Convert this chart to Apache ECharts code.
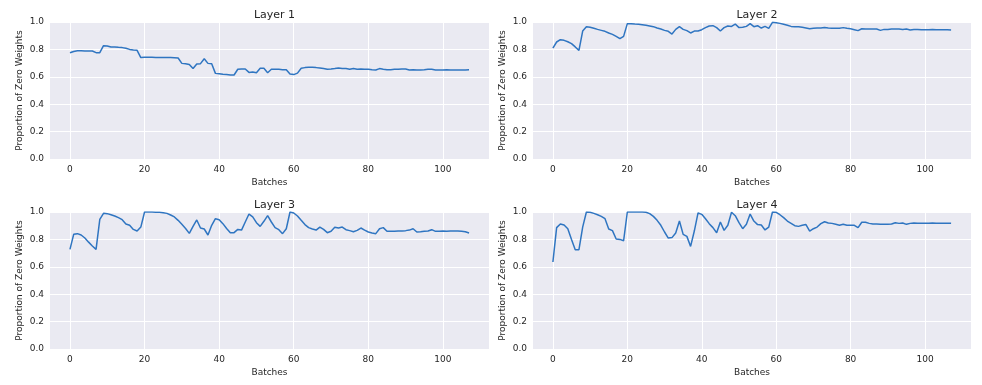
<!DOCTYPE html>
<html>
<head>
<meta charset="utf-8">
<script src="https://cdn.jsdelivr.net/npm/echarts@6/dist/echarts.min.js"></script>
<style>
html,body{margin:0;padding:0;background:#ffffff;}
#chart{width:982px;height:385px;}
</style>
</head>
<body>
<div id="chart"></div>
<script>
const titles = ["Layer 1", "Layer 2", "Layer 3", "Layer 4"];
const xTicks = [0, 20, 40, 60, 80, 100];
const yTicks = [0.0, 0.2, 0.4, 0.6, 0.8, 1.0];

const layer1 = [0.775,0.785,0.79,0.79,0.789,0.789,0.788,0.776,0.776,0.827,
0.825,0.818,0.818,0.815,0.813,0.808,0.80,0.796,0.793,0.74,
0.742,0.742,0.742,0.741,0.741,0.741,0.740,0.740,0.739,0.737,
0.698,0.696,0.69,0.66,0.694,0.696,0.732,0.698,0.696,0.625,
0.623,0.618,0.616,0.613,0.613,0.655,0.657,0.657,0.632,0.635,
0.63,0.662,0.662,0.63,0.655,0.655,0.655,0.652,0.652,0.62,
0.616,0.627,0.662,0.667,0.669,0.669,0.667,0.664,0.66,0.655,
0.657,0.66,0.664,0.66,0.66,0.655,0.66,0.655,0.657,0.655,
0.655,0.652,0.65,0.66,0.655,0.652,0.652,0.655,0.655,0.657,
0.657,0.65,0.652,0.65,0.65,0.652,0.655,0.655,0.65,0.65,
0.65,0.651,0.65,0.65,0.65,0.65,0.65,0.651];

const layer2 = [0.81,0.854,0.871,0.866,0.856,0.842,0.818,0.793,0.934,0.966,
0.961,0.954,0.946,0.939,0.932,0.92,0.91,0.895,0.878,0.895,
0.988,0.988,0.985,0.983,0.98,0.976,0.971,0.966,0.956,0.949,
0.939,0.932,0.912,0.946,0.966,0.946,0.937,0.92,0.934,0.934,
0.944,0.959,0.971,0.973,0.959,0.934,0.959,0.971,0.968,0.985,
0.959,0.961,0.968,0.988,0.966,0.973,0.956,0.968,0.954,0.998,
0.995,0.99,0.983,0.976,0.968,0.966,0.966,0.961,0.956,0.951,
0.954,0.956,0.956,0.959,0.956,0.954,0.954,0.954,0.959,0.954,
0.951,0.944,0.937,0.951,0.949,0.949,0.949,0.949,0.939,0.946,
0.946,0.949,0.949,0.949,0.946,0.949,0.942,0.946,0.946,0.944,
0.944,0.944,0.945,0.944,0.944,0.944,0.943,0.942];

const layer3 = [0.727,0.837,0.842,0.832,0.81,0.78,0.752,0.727,0.946,0.99,
0.988,0.98,0.971,0.959,0.944,0.912,0.903,0.873,0.861,0.89,
1.0,1.0,1.0,0.999,0.998,0.995,0.99,0.978,0.964,0.939,
0.91,0.88,0.844,0.895,0.942,0.883,0.876,0.832,0.903,0.951,
0.944,0.915,0.88,0.849,0.849,0.873,0.868,0.927,0.985,0.964,
0.922,0.895,0.932,0.973,0.927,0.886,0.871,0.842,0.878,1.0,
0.993,0.971,0.939,0.908,0.886,0.876,0.868,0.89,0.873,0.849,
0.859,0.888,0.883,0.89,0.871,0.864,0.856,0.866,0.883,0.868,
0.854,0.847,0.842,0.878,0.886,0.859,0.859,0.859,0.861,0.861,
0.864,0.868,0.878,0.854,0.856,0.859,0.861,0.871,0.859,0.859,
0.861,0.859,0.861,0.861,0.861,0.859,0.856,0.847];

const layer4 = [0.635,0.886,0.912,0.905,0.878,0.80,0.725,0.725,0.89,1.0,
0.998,0.99,0.98,0.968,0.951,0.876,0.864,0.803,0.8,0.79,
1.0,1.0,1.0,1.0,1.0,0.998,0.988,0.968,0.939,0.903,
0.854,0.81,0.813,0.847,0.934,0.837,0.822,0.749,0.861,0.993,
0.983,0.951,0.915,0.886,0.849,0.927,0.866,0.903,0.998,0.973,
0.922,0.878,0.91,0.985,0.934,0.908,0.905,0.869,0.89,1.0,
0.998,0.98,0.959,0.934,0.917,0.9,0.895,0.903,0.908,0.861,
0.878,0.89,0.915,0.929,0.92,0.917,0.91,0.903,0.91,0.903,
0.903,0.903,0.886,0.925,0.925,0.917,0.912,0.912,0.91,0.91,
0.91,0.912,0.922,0.917,0.92,0.91,0.917,0.92,0.918,0.918,
0.918,0.918,0.919,0.918,0.918,0.917,0.918,0.917];

const layers = [layer1, layer2, layer3, layer4];

const FONT = "DejaVu Sans";
const TXT = "#262626";
const grids = [
  {left: 50, top: 22, width: 439, height: 137},
  {left: 533, top: 22, width: 438, height: 137},
  {left: 50, top: 212, width: 439, height: 137},
  {left: 533, top: 212, width: 438, height: 137}
];

const option = {
  animation: false,
  backgroundColor: "#ffffff",
  title: grids.map((g, i) => ({
    text: titles[i],
    left: g.left + g.width / 2,
    top: g.top - 17,
    textAlign: "center",
    textStyle: {fontFamily: FONT, fontSize: 11, fontWeight: "normal", color: TXT}
  })),
  grid: grids.map(g => Object.assign({backgroundColor: "#EAEAF2", show: true, borderWidth: 0}, g)),
  xAxis: grids.map((g, i) => ({
    type: "value",
    gridIndex: i,
    min: -5.35,
    max: 112.35,
    name: "Batches",
    nameLocation: "middle",
    nameGap: 19,
    nameTextStyle: {fontFamily: FONT, fontSize: 9, color: TXT},
    axisLine: {show: false},
    axisTick: {show: false, customValues: xTicks},
    axisLabel: {customValues: xTicks, fontFamily: FONT, fontSize: 9, color: TXT, margin: 6},
    splitLine: {show: true, lineStyle: {color: "#ffffff", width: 1}}
  })),
  yAxis: grids.map((g, i) => ({
    type: "value",
    gridIndex: i,
    min: 0,
    max: 1,
    interval: 0.2,
    name: "Proportion of Zero Weights",
    nameLocation: "middle",
    nameGap: 26,
    nameTextStyle: {fontFamily: FONT, fontSize: 9, color: TXT},
    axisLine: {show: false},
    axisTick: {show: false},
    axisLabel: {fontFamily: FONT, fontSize: 9, color: TXT, margin: 6,
      formatter: v => v.toFixed(1)},
    splitLine: {show: true, lineStyle: {color: "#ffffff", width: 1}}
  })),
  series: layers.map((arr, i) => ({
    type: "line",
    xAxisIndex: i,
    yAxisIndex: i,
    data: arr.map((v, k) => [k, v]),
    showSymbol: false,
    symbol: "none",
    lineStyle: {color: "#2f75c1", width: 1.5},
    clip: true
  }))
};

const chart = echarts.init(document.getElementById("chart"), null, {renderer: "canvas"});
chart.setOption(option);
</script>
</body>
</html>
